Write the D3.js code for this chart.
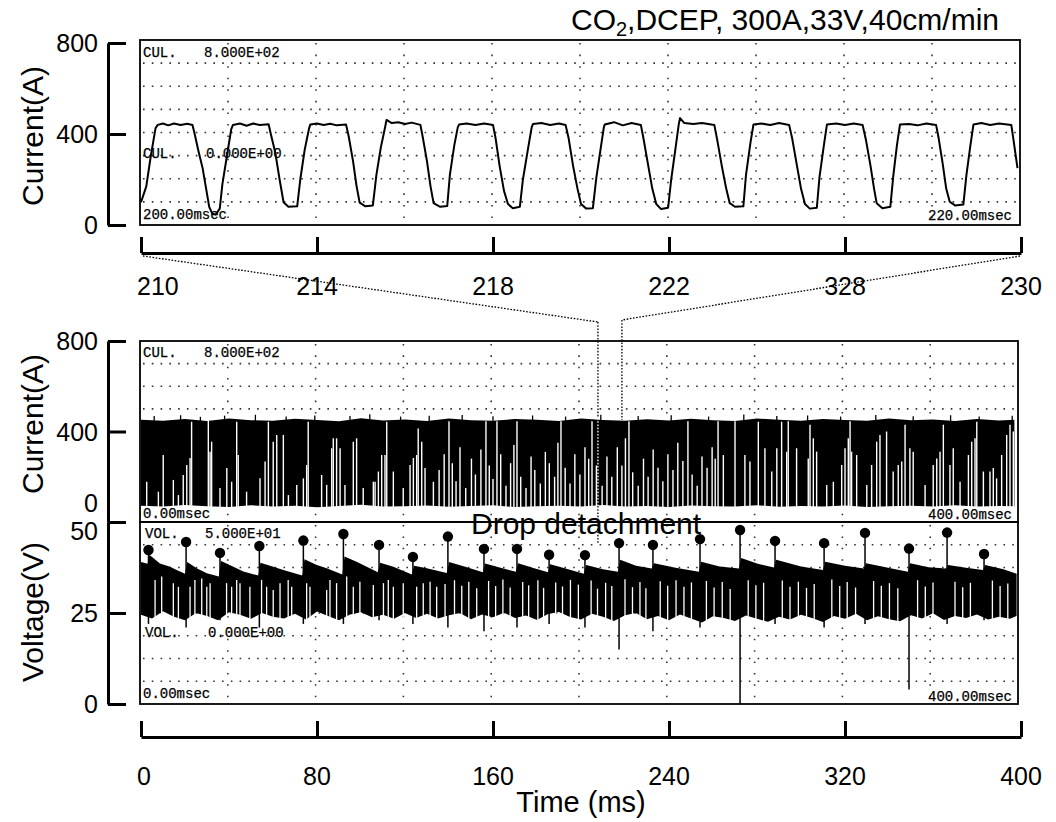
<!DOCTYPE html>
<html>
<head>
<meta charset="utf-8">
<script src="https://cdn.jsdelivr.net/npm/d3@7"></script>
<style>
    body { margin: 0; background: #fff; }
    svg { display: block; font-family: 'Liberation Sans', Arial, sans-serif; }
    .scope { font-family: 'Liberation Mono', 'DejaVu Sans Mono', monospace; font-size: 14px; fill: #000; stroke: #000; stroke-width: 0.25px; }
</style>
</head>
<body>
<svg id="chart" width="1056" height="822"></svg>
<script>
// axis ticks
const zoomTicks = [210, 214, 218, 222, 226, 230];
const zoomTickLabels = ['210', '214', '218', '222', '328', '230'];
const timeTicks = [0, 80, 160, 240, 320, 400];
const currentTicks = [0, 400, 800];
const voltageTicks = [0, 25, 50];
const zoomSpan = [207.7, 218.6];

// zoomed current trace, 210-230 ms
const zoomTime = [
    210.00, 210.12, 210.22, 210.33, 210.38, 210.50, 210.62, 210.75, 210.90, 211.05, 211.17, 211.22, 211.30, 211.40, 211.48, 211.55, 211.62, 211.70, 211.79,
    211.85, 211.95, 212.05, 212.09, 212.25, 212.40, 212.55, 212.70, 212.90, 212.95, 213.05, 213.15, 213.24, 213.35, 213.55,
    213.62, 213.72, 213.82, 213.85, 214.00, 214.15, 214.30, 214.45, 214.66, 214.72, 214.82, 214.90, 214.97, 215.10, 215.27,
    215.35, 215.45, 215.55, 215.58, 215.70, 215.85, 216.00, 216.15, 216.35, 216.40, 216.50, 216.58, 216.65, 216.80, 216.96,
    217.02, 217.12, 217.20, 217.23, 217.40, 217.60, 217.80, 218.00, 218.06, 218.15, 218.25, 218.34, 218.45, 218.61,
    218.68, 218.80, 218.88, 218.91, 219.10, 219.30, 219.50, 219.65, 219.72, 219.82, 219.92, 220.00, 220.12, 220.27,
    220.35, 220.45, 220.52, 220.54, 220.75, 220.95, 221.15, 221.36, 221.42, 221.52, 221.62, 221.71, 221.82, 221.98,
    222.05, 222.15, 222.22, 222.25, 222.35, 222.55, 222.75, 223.03, 223.10, 223.20, 223.30, 223.38, 223.50, 223.69,
    223.75, 223.85, 223.92, 224.10, 224.30, 224.50, 224.73, 224.80, 224.90, 225.00, 225.09, 225.20, 225.36,
    225.42, 225.52, 225.59, 225.80, 226.00, 226.20, 226.40, 226.48, 226.58, 226.66, 226.72, 226.85, 227.03,
    227.10, 227.18, 227.25, 227.45, 227.65, 227.85, 228.07, 228.13, 228.22, 228.30, 228.38, 228.50, 228.69,
    228.76, 228.85, 228.92, 229.10, 229.30, 229.50, 229.78, 229.84, 229.92
];
const zoomCurrent = [
    100, 170, 300, 425, 440, 446, 438, 446, 440, 445, 440, 400, 330, 250, 160, 80, 50, 46, 72,
    180, 300, 420, 440, 446, 436, 446, 440, 443, 400, 320, 200, 100, 80, 82,
    200, 330, 425, 442, 446, 440, 445, 438, 442, 390, 280, 170, 98, 82, 86,
    220, 340, 432, 462, 448, 452, 444, 450, 440, 390, 280, 170, 96, 80, 84,
    220, 350, 430, 442, 446, 440, 446, 440, 380, 260, 150, 92, 74, 80,
    200, 340, 430, 444, 448, 440, 446, 440, 380, 260, 160, 92, 72, 74,
    210, 340, 430, 442, 452, 438, 448, 440, 380, 270, 160, 92, 70, 76,
    200, 340, 440, 470, 448, 444, 448, 440, 370, 260, 160, 96, 80, 82,
    220, 360, 442, 446, 440, 448, 440, 380, 270, 160, 92, 72, 76,
    210, 350, 442, 446, 440, 446, 440, 370, 260, 160, 96, 74, 80,
    220, 350, 442, 444, 438, 446, 440, 380, 270, 160, 102, 86, 90,
    220, 350, 442, 448, 440, 446, 440, 360, 250
];

// 0-400 ms current record: envelope of the dense trace
const curTime = [0, 10, 20, 30, 40, 50, 60, 70, 80, 90, 100, 110, 120, 130, 140, 150, 160, 170, 180, 190, 200,
    210, 220, 230, 240, 250, 260, 270, 280, 290, 300, 310, 320, 330, 340, 350, 360, 370, 380, 390, 397];
const curUpper = [452, 448, 455, 446, 458, 450, 447, 456, 451, 445, 459, 449, 453, 446, 457, 450, 448, 455, 452, 446, 458,
    451, 447, 454, 449, 456, 450, 446, 457, 452, 448, 455, 451, 447, 458, 450, 453, 446, 455, 449, 452];
const curLower = [72, 68, 75, 70, 66, 74, 69, 72, 65, 71, 76, 68, 70, 73, 67, 71, 74, 66, 70, 72, 68,
    75, 69, 71, 66, 73, 70, 68, 74, 67, 71, 69, 73, 66, 70, 72, 68, 74, 69, 71, 70];
const curPeakTime = [6, 18, 27, 38, 52, 66, 79, 95, 104, 118, 131, 146, 160, 178, 193, 209, 226, 241, 258, 274, 289, 303, 318, 334, 351, 368, 381, 396];
const curPeak = [468, 472, 465, 470, 474, 466, 471, 468, 476, 466, 470, 473, 467, 471, 466, 474, 468, 472, 466, 475, 468, 471, 466, 473, 467, 472, 466, 470];
// white gaps in the dense current trace (time, height reached)
const curGapTime = [2.6, 7.9, 10.1, 14.7, 17.0, 19.2, 20.8, 22.3, 23.0, 30.6, 31.4, 32.1, 35.9, 39.0, 41.2, 43.5, 44.2, 48.0, 54.1, 56.4,
    57.9, 60.1, 61.7, 64.7, 67.0, 70.8, 73.8, 75.3, 76.0, 82.1, 84.4, 86.7, 87.4, 88.9, 90.5, 92.7, 96.5, 98.0, 101.0, 105.6,
    106.4, 107.9, 109.4, 110.9, 111.7, 114.7, 119.2, 122.3, 123.8, 125.3, 126.0, 127.6, 129.1, 132.9,
    135.5, 137.8, 140.0, 141.5, 143.2, 145.0, 147.6, 150.2, 152.0, 154.5, 156.8, 158.3, 160.0, 161.8, 163.5, 165.9, 168.0, 169.5, 170.9, 172.6,
    175.0, 177.3, 179.0, 181.5, 183.8, 185.6, 188.0, 189.5, 190.9, 192.8, 195.0, 197.2, 199.5, 201.8, 203.5, 205.0, 207.0, 209.6, 211.8, 214.0,
    216.5, 218.6, 220.2, 221.8, 223.5, 226.0, 228.4, 230.5, 232.8, 235.0, 237.2, 239.5, 241.8, 244.0, 246.3, 248.6, 250.5, 252.8, 255.0, 257.3,
    259.6, 261.0, 262.3,
    264.7, 270.0, 274.5, 276.8, 280.6, 283.6, 286.7, 289.0, 291.2, 293.5, 294.2, 298.0, 303.3, 304.1, 305.6, 307.1, 311.7, 314.7, 318.5, 320.0,
    321.5, 322.3, 323.0, 325.3, 329.9, 332.1, 334.4, 335.9, 338.9, 341.9, 344.2, 345.8, 347.3, 349.5, 351.0, 356.4, 360.1, 361.7, 363.2, 364.7,
    367.7, 369.2, 372.3, 376.1, 377.6, 379.1, 379.9, 382.9, 385.9, 387.4, 388.9, 391.2, 393.5, 395.0, 396.5];
const curGapTop = [178, 134, 296, 186, 119, 208, 252, 283, 443, 450, 311, 355, 150, 239, 178, 443, 296, 134, 193, 267,
    443, 355, 385, 385, 119, 164, 193, 252, 443, 208, 164, 326, 370, 370, 326, 164, 355, 370, 150, 178,
    178, 223, 296, 296, 443, 223, 150, 252, 283, 296, 413, 355, 239, 178,
    230, 300, 445, 260, 180, 330, 150, 280, 210, 320, 445, 250, 190, 445, 300, 160, 260, 340, 445, 200,
    150, 290, 230, 170, 310, 260, 200, 350, 445, 240, 170, 300, 210, 330, 280, 445, 250, 160, 290, 200,
    330, 250, 370, 445, 220, 160, 280, 200, 320, 240, 180, 300, 230, 350, 270, 445, 210, 160, 290, 240,
    330, 280, 445,
    296, 445, 296, 267, 443, 326, 223, 326, 443, 311, 445, 326, 281, 430, 370, 311, 164, 178, 252, 326,
    370, 445, 311, 296, 164, 252, 355, 385, 400, 223, 252, 267, 430, 326, 311, 164, 252, 281, 311, 430,
    252, 326, 178, 296, 355, 370, 443, 223, 223, 239, 193, 296, 385, 430, 400];

// 0-400 ms voltage record
const volUpperTime = [0, 3.0, 3.8, 8.6, 13.2, 16.2, 20.0, 21.0, 25.3, 29.9, 35.4, 36.4, 42.0, 46.5, 53.3, 54.3, 60.1, 64.7, 73.3, 74.3,
    79.9, 84.4, 91.5, 92.5, 98.0, 102.6, 107.7, 108.7, 114.7, 123.1, 124.1, 129.9, 139.0, 140.0, 147.0, 155.4, 156.4, 163.0, 170.4, 171.4,
    178.0, 185.0, 186.0, 193.0, 201.3, 202.3, 210.0, 216.8, 217.8, 225.0, 232.2, 233.2, 243.0, 253.6, 254.6, 263.0, 271.8, 272.8, 280.0, 287.7,
    288.7, 300.0, 310.0, 311.0, 320.0, 328.6, 329.6, 339.0, 348.6, 349.6, 358.0, 365.9, 366.9, 375.0, 382.7, 383.7, 392.0, 398.0];
const volUpper = [39.0, 38.5, 41.0, 38.6, 37.7, 36.8, 35.8, 39.0, 37.3, 35.9, 35.0, 39.3, 37.7, 36.4, 35.3, 38.8, 37.7, 36.8, 35.3, 39.8,
    38.2, 37.3, 35.6, 40.5, 39.1, 37.7, 36.2, 38.8, 37.7, 35.6, 38.0, 37.3, 36.0, 39.0, 37.8, 36.2, 38.6, 37.5, 36.3, 38.7,
    37.4, 36.2, 38.4, 37.2, 35.8, 38.2, 37.0, 36.3, 39.6, 38.0, 37.2, 38.7, 37.4, 36.3, 39.1, 37.8, 37.2, 40.1, 38.6, 37.5,
    39.6, 37.8, 36.8, 39.1, 38.0, 37.2, 38.7, 37.5, 36.3, 38.7, 37.6, 37.2, 38.2, 37.4, 36.8, 38.2, 37.0, 35.8];
const volLowerTime = [0, 5, 10, 15, 20, 25, 30, 35, 40, 45, 50, 55, 60, 65, 70, 75, 80, 85, 90, 95,
    100, 105, 110, 115, 120, 125, 130, 135, 140, 145, 150, 155, 160, 165, 170, 175, 180, 185, 190, 195,
    200, 205, 210, 215, 220, 225, 230, 235, 240, 245, 250, 255, 260, 265, 270, 275, 280, 285, 290, 295,
    300, 305, 310, 315, 320, 325, 330, 335, 340, 345, 350, 355, 360, 365, 370, 375, 380, 385, 390, 395, 398];
const volLower = [24.5, 23.5, 25.5, 24.0, 23.0, 25.0, 24.2, 23.0, 25.2, 24.5, 23.4, 25.0, 24.0, 23.5, 24.8, 23.2, 25.4, 24.2, 23.0, 24.6,
    25.2, 23.8, 24.5, 23.4, 25.0, 23.6, 24.8, 23.5, 24.4, 25.0, 23.3, 24.6, 23.8, 25.1, 23.6, 24.3, 23.1, 24.7, 25.3, 23.9,
    23.2, 24.8, 24.0, 22.8, 24.4, 25.0, 23.3, 24.2, 23.0, 24.6, 23.5, 22.4, 24.1, 23.6, 22.8, 24.3, 23.4, 22.6, 24.0, 23.2,
    24.5, 23.6, 22.5, 24.2, 23.4, 24.8, 23.0, 24.1, 23.3, 22.7, 24.4, 23.5, 24.9, 23.1, 24.2, 23.6, 24.6, 23.2, 24.0, 23.4, 24.2];
const volGapTime = [6.4, 9.4, 14.7, 17.0, 22.3, 24.5, 27.6, 29.9, 31.4, 38.9, 41.2, 43.5, 45.0, 49.5, 54.8, 57.1, 60.1, 63.2, 66.9, 68.5,
    75.3, 76.8, 84.4, 85.9, 88.9, 93.5, 96.5, 99.5, 105.6, 110.2, 112.4, 114.7, 119.2, 125.3, 128.3, 131.4, 134.4, 138.2, 142.5, 145.8,
    149.0, 152.6, 158.0, 161.2, 164.5, 167.8, 173.5, 176.2, 180.4, 183.0, 188.5, 191.6, 195.2, 198.8, 204.6, 207.5, 211.2, 214.0, 220.0, 223.4,
    226.8, 229.5, 236.0, 239.4, 243.2, 246.8, 250.2, 257.0, 260.5, 264.2, 267.8, 276.0, 279.5, 283.0, 291.5, 295.0, 298.8, 302.5, 306.0, 314.0,
    317.6, 321.0, 324.8, 333.0, 336.5, 340.2, 344.0, 353.0, 356.5, 360.0, 370.0, 373.5, 377.0, 387.0, 390.5, 394.0];
const volGapTop = [34.1, 35.0, 33.2, 32.2, 32.2, 34.1, 34.5, 32.2, 33.2, 33.2, 32.2, 34.1, 33.2, 32.2, 34.1, 32.2, 31.3, 33.2, 34.1, 32.2,
    33.2, 32.2, 31.3, 34.1, 33.2, 35.0, 32.2, 33.6, 32.7, 33.2, 34.1, 32.2, 33.2, 32.2, 33.2, 33.6, 32.2, 33.0, 34.0, 32.5,
    33.6, 31.8, 33.8, 32.4, 34.2, 32.0, 33.5, 32.6, 34.0, 31.9, 33.4, 32.3, 34.1, 32.8, 33.9, 31.7, 33.3, 32.4, 34.3, 32.1,
    33.5, 31.8, 33.7, 32.5, 34.0, 32.2, 33.4, 33.8, 32.0, 33.5, 31.6, 34.0, 32.6, 33.3, 33.9, 32.2, 33.6, 31.9, 33.0, 34.2,
    32.4, 33.5, 32.0, 33.8, 32.5, 33.2, 31.8, 34.0, 32.3, 33.4, 33.6, 32.1, 33.3, 33.9, 32.4, 33.1];

// drop detachment events
const dropTime = [3.4, 20.5, 35.9, 53.8, 73.8, 92.0, 108.2, 123.6, 139.5, 155.9, 170.9, 185.5, 201.8, 217.3, 232.7, 254.1, 272.3, 288.2, 310.5, 329.1, 349.1, 366.4, 383.2];
const dropVoltage = [42.3, 44.5, 41.5, 43.4, 44.9, 46.7, 43.7, 40.4, 46.0, 42.6, 42.6, 41.0, 40.9, 44.2, 43.7, 45.3, 47.8, 44.8, 44.2, 47.0, 42.7, 47.1, 41.2];
const dropLow = [22, 21, 23, 21, 22, 22, 23, 22, 21, 20, 21, 22, 21, 15, 20, 21, 0, 22, 21, 22, 4, 22, 23];

const svg = d3.select('#chart');

const xZoom = d3.scaleLinear().domain([210, 230]).range([141, 1021]);
const xTime = d3.scaleLinear().domain([0, 400]).range([141, 1021]);
const yZoom = d3.scaleLinear().domain([0, 800]).range([225, 43]);
const yCur = d3.scaleLinear().domain([0, 800]).range([522, 341]);
const yVol = d3.scaleLinear().domain([0, 50]).range([704, 522]);

const frames = [
    { x0: 140, x1: 1020, y0: 40, y1: 225 },
    { x0: 140, x1: 1018, y0: 341, y1: 522 },
    { x0: 140, x1: 1018, y0: 522, y1: 704 }
];

// scope graticule
frames.forEach(f => {
    const g = svg.append('g');
    const dx = (f.x1 - f.x0) / 10;
    const dy = (f.y1 - f.y0) / 8;
    d3.range(1, 8).forEach(k => {
        g.append('line')
            .attr('x1', f.x0 + 3).attr('x2', f.x1 - 3)
            .attr('y1', f.y0 + k * dy).attr('y2', f.y0 + k * dy)
            .attr('stroke', '#333').attr('stroke-width', 1.6)
            .attr('stroke-dasharray', `1.6 ${dx / 10 - 1.6}`);
    });
    d3.range(1, 10).forEach(k => {
        g.append('line')
            .attr('x1', f.x0 + k * dx).attr('x2', f.x0 + k * dx)
            .attr('y1', f.y0 + 3).attr('y2', f.y1 - 3)
            .attr('stroke', '#333').attr('stroke-width', 1.6)
            .attr('stroke-dasharray', `1.6 ${dy / 2 - 1.6}`);
    });
});

// zoomed trace
const zoomLine = d3.line()
    .x((d, i) => xZoom(zoomTime[i]))
    .y(d => yZoom(d));

svg.append('path')
    .datum(zoomCurrent)
    .attr('fill', 'none')
    .attr('stroke', '#000')
    .attr('stroke-width', 2)
    .attr('stroke-linejoin', 'round')
    .attr('d', zoomLine);

// dense current band
const curPoly = curTime.map((t, i) => [t, curUpper[i]])
    .concat(curTime.map((t, i) => [t, curLower[i]]).reverse());
svg.append('path')
    .attr('d', d3.line().x(d => xTime(d[0])).y(d => yCur(d[1]))(curPoly) + 'Z')
    .attr('fill', '#000');

svg.selectAll('.cur-peak')
    .data(curPeakTime)
    .enter().append('line')
    .attr('x1', d => xTime(d)).attr('x2', d => xTime(d))
    .attr('y1', yCur(440))
    .attr('y2', (d, i) => yCur(curPeak[i]))
    .attr('stroke', '#000').attr('stroke-width', 1.3);

svg.selectAll('.cur-gap')
    .data(curGapTime)
    .enter().append('line')
    .attr('x1', d => xTime(d)).attr('x2', d => xTime(d))
    .attr('y1', yCur(50))
    .attr('y2', (d, i) => yCur(curGapTop[i]))
    .attr('stroke', '#fff').attr('stroke-width', 1.4);

// voltage band
const volPoly = volUpperTime.map((t, i) => [t, volUpper[i]])
    .concat(volLowerTime.map((t, i) => [t, volLower[i]]).reverse());
svg.append('path')
    .attr('d', d3.line().x(d => xTime(d[0])).y(d => yVol(d[1]))(volPoly) + 'Z')
    .attr('fill', '#000');

svg.selectAll('.vol-gap')
    .data(volGapTime)
    .enter().append('line')
    .attr('x1', d => xTime(d)).attr('x2', d => xTime(d))
    .attr('y1', yVol(21))
    .attr('y2', (d, i) => yVol(volGapTop[i]))
    .attr('stroke', '#fff').attr('stroke-width', 1.3);

svg.selectAll('.drop-line')
    .data(dropTime)
    .enter().append('line')
    .attr('x1', d => xTime(d)).attr('x2', d => xTime(d))
    .attr('y1', (d, i) => yVol(dropVoltage[i]))
    .attr('y2', (d, i) => yVol(dropLow[i]))
    .attr('stroke', '#000').attr('stroke-width', 1.5);

svg.selectAll('.drop-dot')
    .data(dropTime)
    .enter().append('circle')
    .attr('cx', d => xTime(d))
    .attr('cy', (d, i) => yVol(dropVoltage[i]))
    .attr('r', 5.2)
    .attr('fill', '#000');

// frame borders
frames.forEach(f => {
    svg.append('rect')
        .attr('x', f.x0).attr('y', f.y0)
        .attr('width', f.x1 - f.x0).attr('height', f.y1 - f.y0)
        .attr('fill', 'none').attr('stroke', '#000').attr('stroke-width', 1.8);
});

// scope readouts
const readouts = [
    [143, 57, 'CUL.'], [204, 57, '8.000E+02'], [143, 158, 'CUL.'], [206, 158, '0.000E+00'], [143, 219, '200.00msec'],
    [143, 357, 'CUL.'], [204, 357, '8.000E+02'], [143, 518, '0.00msec'],
    [145, 538, 'VOL.'], [205, 538, '5.000E+01'], [145, 637, 'VOL.'], [208, 637, '0.000E+00'], [143, 698, '0.00msec']
];
readouts.forEach(r => {
    svg.append('text').attr('class', 'scope').attr('x', r[0]).attr('y', r[1]).text(r[2]);
});
[[1012, 220, '220.00msec'], [1012, 519, '400.00msec'], [1012, 701, '400.00msec']].forEach(r => {
    svg.append('text').attr('class', 'scope').attr('x', r[0]).attr('y', r[1])
        .attr('text-anchor', 'end').text(r[2]);
});

// zoom connectors
const dotted = { stroke: '#000', 'stroke-width': 1.3, 'stroke-dasharray': '1.6 1.6' };
function dottedLine(x1, y1, x2, y2, color) {
    const l = svg.append('line')
        .attr('x1', x1).attr('y1', y1).attr('x2', x2).attr('y2', y2);
    Object.entries(dotted).forEach(([k, v]) => l.attr(k, v));
    if (color) l.attr('stroke', color);
}
dottedLine(xZoom(210) + 2, 256, xTime(zoomSpan[0]), 322);
dottedLine(xZoom(230) - 1, 256, xTime(zoomSpan[1]), 320);
dottedLine(xTime(zoomSpan[0]), 322, xTime(zoomSpan[0]), 418);
dottedLine(xTime(zoomSpan[0]), 418, xTime(zoomSpan[0]), 506, '#fff');
dottedLine(xTime(zoomSpan[0]), 506, xTime(zoomSpan[0]), 544);
dottedLine(xTime(zoomSpan[1]), 320, xTime(zoomSpan[1]), 420);

// axes
function yAxis(scale, ticks, shifts) {
    svg.append('g')
        .attr('transform', 'translate(108,0)')
        .call(d3.axisRight(scale).tickValues(ticks).tickSize(18).tickSizeOuter(0).tickFormat(''))
        .call(g => g.selectAll('path, line').attr('stroke', '#000').attr('stroke-width', 3));
    ticks.forEach(v => {
        svg.append('text')
            .attr('x', 98)
            .attr('y', scale(v) + 9 + (shifts[v] || 0))
            .attr('text-anchor', 'end')
            .style('font-size', '25px')
            .text(v);
    });
}
yAxis(yZoom, currentTicks, {});
yAxis(yCur, currentTicks, { 0: -19 });
yAxis(yVol, voltageTicks, { 50: 9 });

function xAxis(scale, ticks, labels, y, labelY) {
    svg.append('g')
        .attr('transform', `translate(0,${y})`)
        .call(d3.axisTop(scale).tickValues(ticks).tickSize(16).tickSizeOuter(0).tickFormat(''))
        .call(g => g.selectAll('path, line').attr('stroke', '#000').attr('stroke-width', 3));
    ticks.forEach((v, i) => {
        svg.append('text')
            .attr('x', i === 0 ? scale(v) - 4 : scale(v))
            .attr('y', labelY)
            .attr('text-anchor', i === 0 ? 'start' : 'middle')
            .style('font-size', '25px')
            .text(labels[i]);
    });
}
xAxis(xZoom, zoomTicks, zoomTickLabels, 253, 295);
xAxis(xTime, timeTicks, timeTicks.map(String), 737, 785);

// titles
function yTitle(text, cy) {
    svg.append('text')
        .attr('transform', `translate(43,${cy}) rotate(-90)`)
        .attr('text-anchor', 'middle')
        .style('font-size', '30px')
        .text(text);
}
yTitle('Current(A)', 136);
yTitle('Current(A)', 424);
yTitle('Voltage(V)', 612);

svg.append('text')
    .attr('x', xTime(200))
    .attr('y', 812)
    .attr('text-anchor', 'middle')
    .style('font-size', '29px')
    .text('Time (ms)');

const title = svg.append('text')
    .attr('x', 999)
    .attr('y', 30)
    .attr('text-anchor', 'end')
    .style('font-size', '30px');
title.append('tspan').text('CO');
title.append('tspan').attr('dy', 6).style('font-size', '20px').text('2');
title.append('tspan').attr('dy', -6).text(',DCEP, 300A,33V,40cm/min');

svg.append('text')
    .attr('x', 471)
    .attr('y', 534)
    .style('font-size', '30px')
    .text('Drop detachment');
</script>
</body>
</html>
